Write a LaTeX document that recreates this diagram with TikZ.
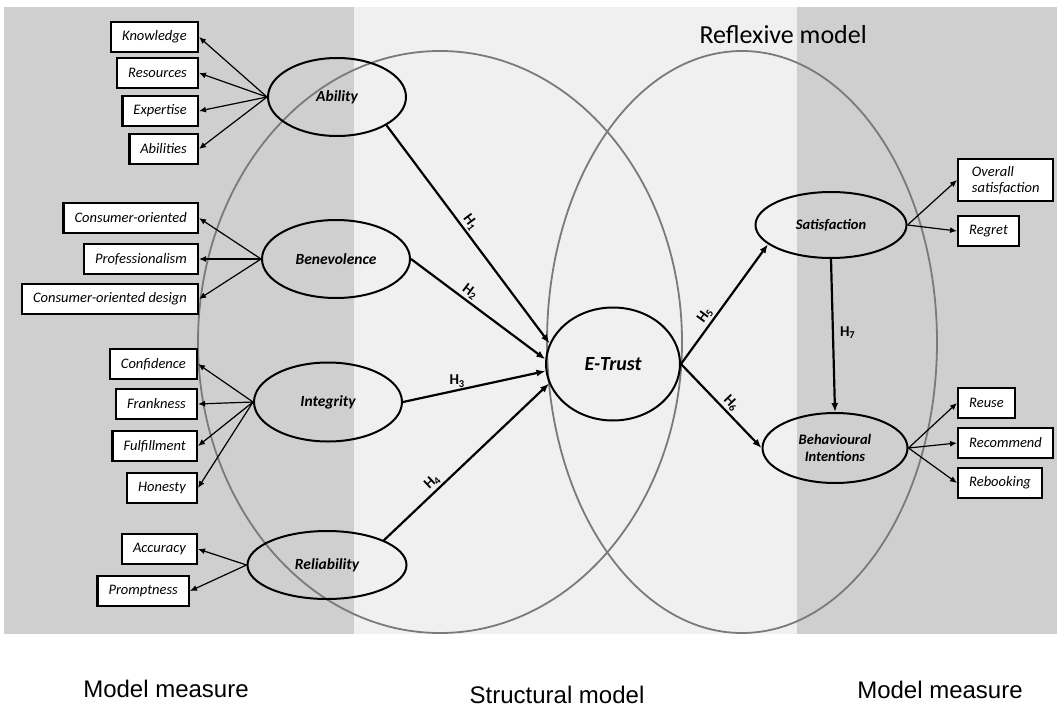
\documentclass[tikz,border=0pt]{standalone}
\usepackage{fontspec}
\setmainfont{Carlito}
\newfontfamily\axisfont{Liberation Sans}
\usepackage{tikz}
\usetikzlibrary{shapes.geometric,arrows.meta,positioning}
\definecolor{measuregray}{gray}{0.81}
\definecolor{structgray}{gray}{0.94}
\definecolor{regiongray}{gray}{0.48}

\tikzset{
  latent/.style={ellipse, draw, line width=2pt, minimum width=148pt, minimum height=76pt,
    inner sep=0pt, align=center, font=\fontsize{15.5}{17}\selectfont\bfseries\itshape},
  indic/.style={rectangle, draw, fill=white, line width=2.4pt, minimum height=30pt,
    inner xsep=11pt, inner ysep=0pt, font=\fontsize{14.5}{16}\selectfont\itshape},
  loading/.style={-{Latex[length=7pt,width=6pt]}, line width=1.2pt},
  hypo/.style={-{Latex[length=9pt,width=7pt]}, line width=2.2pt},
  hlabel/.style={font=\fontsize{15}{17}\selectfont\bfseries, inner sep=2pt},
  region/.style={draw=regiongray, line width=1.8pt},
  caption/.style={anchor=base, font=\axisfont\fontsize{24}{28}\selectfont},
}

\begin{document}
\begin{tikzpicture}[x=1pt, y=-1pt]
    \useasboundingbox (0,0) rectangle (1057,709);

    % shaded bands: measure / structural / measure
    \fill[measuregray] (4,7) rectangle (354,634);
    \fill[structgray] (354,7) rectangle (797,634);
    \fill[measuregray] (797,7) rectangle (1057,634);

    % structural and reflexive regions
    \draw[region] (440,342) ellipse [x radius=242pt, y radius=291pt];
    \draw[region] (742,342) ellipse [x radius=195pt, y radius=291pt];
    \node[anchor=base west, font=\fontsize{26}{30}\selectfont] (refl) at (696,44) {Reflexive model};

    % latent constructs
    \node[latent, minimum width=138pt, minimum height=78pt] (ab) at (337,97) {Ability};
    \node[latent, minimum height=78pt] (bv) at (336,259) {Benevolence};
    \node[latent, minimum height=79pt] (ig) at (328,402) {Integrity};
    \node[latent, minimum width=159pt, minimum height=68pt] (rl) at (327,565) {Reliability};
    \node[latent, minimum width=134pt, minimum height=113pt,
          font=\fontsize{20}{22}\selectfont\bfseries\itshape] (et) at (613,364) {E-Trust};
    \node[latent, minimum width=151pt, minimum height=66pt,
          font=\fontsize{14.5}{17}\selectfont\bfseries\itshape] (sat) at (831,225) {Satisfaction};
    \node[latent, minimum width=145pt, minimum height=70pt,
          font=\fontsize{14.5}{17}\selectfont\bfseries\itshape] (bi) at (835,448) {Behavioural\\Intentions};

    % indicators on the left
    \foreach \id/\x/\y/\txt in {kn/199/37/Knowledge, rs/199/73/Resources,
                                ex/199/111/Expertise, al/199/149/Abilities} {
        \node[indic, anchor=east] (\id) at (\x,\y) {\txt};
        \draw[loading] (ab.west) -- (\id.east);
    }
    \foreach \id/\x/\y/\txt in {co/199/218/Consumer-oriented, pr/199/259/Professionalism,
                                cd/199/299/Consumer-oriented design} {
        \node[indic, anchor=east] (\id) at (\x,\y) {\txt};
        \draw[loading] (bv.west) -- (\id.east);
    }
    \foreach \id/\x/\y/\txt in {cf/198/364/Confidence, fr/198/404/Frankness,
                                ff/198/446/Fulfillment, ho/198/488/Honesty} {
        \node[indic, anchor=east] (\id) at (\x,\y) {\txt};
        \draw[loading] (ig.west) -- (\id.east);
    }
    \foreach \id/\x/\y/\txt in {ac/198/549/Accuracy, pm/190/591/Promptness} {
        \node[indic, anchor=east] (\id) at (\x,\y) {\txt};
        \draw[loading] (rl.west) -- (\id.east);
    }

    % indicators on the right
    \node[indic, anchor=west, align=left, inner xsep=10pt, inner ysep=7pt,
          minimum width=95pt] (os) at (957,180) {Overall\\satisfaction};
    \draw[loading] (sat.east) -- (os.west);
    \node[indic, anchor=west] (rg) at (957,231) {Regret};
    \draw[loading] (sat.east) -- (rg.west);
    \foreach \id/\y/\txt in {ru/403/Reuse, rc/443/Recommend, rb/483/Rebooking} {
        \node[indic, anchor=west] (\id) at (957,\y) {\txt};
        \draw[loading] (bi.east) -- (\id.west);
    }

    % hypotheses
    \draw[hypo] (ab.south east) -- node[hlabel, sloped, above, pos=.47] {H\textsubscript{1}} (et.162);
    \draw[hypo] (bv.east) -- node[hlabel, sloped, above, pos=.4] {H\textsubscript{2}} (et.176);
    \draw[hypo] (ig.east) -- node[hlabel, above, pos=.38] {H\textsubscript{3}} (et.186);
    \draw[hypo] (rl.north east) -- node[hlabel, sloped, above, pos=.33] {H\textsubscript{4}} (et.197);
    \draw[hypo] (et.east) -- node[hlabel, sloped, above, pos=.36] {H\textsubscript{5}} (sat.197);
    \draw[hypo] (et.east) -- node[hlabel, sloped, above, pos=.54] {H\textsubscript{6}} (bi.west);
    \draw[hypo] (sat.south) -- node[hlabel, right, pos=.48, xshift=4pt] {H\textsubscript{7}} (bi.north);

    % band captions
    \node[caption] (mml) at (166,697) {Model measure};
    \node[caption] (sm) at (557,703) {Structural model};
    \node[caption] (mmr) at (940,698) {Model measure};
\end{tikzpicture}
\end{document}
